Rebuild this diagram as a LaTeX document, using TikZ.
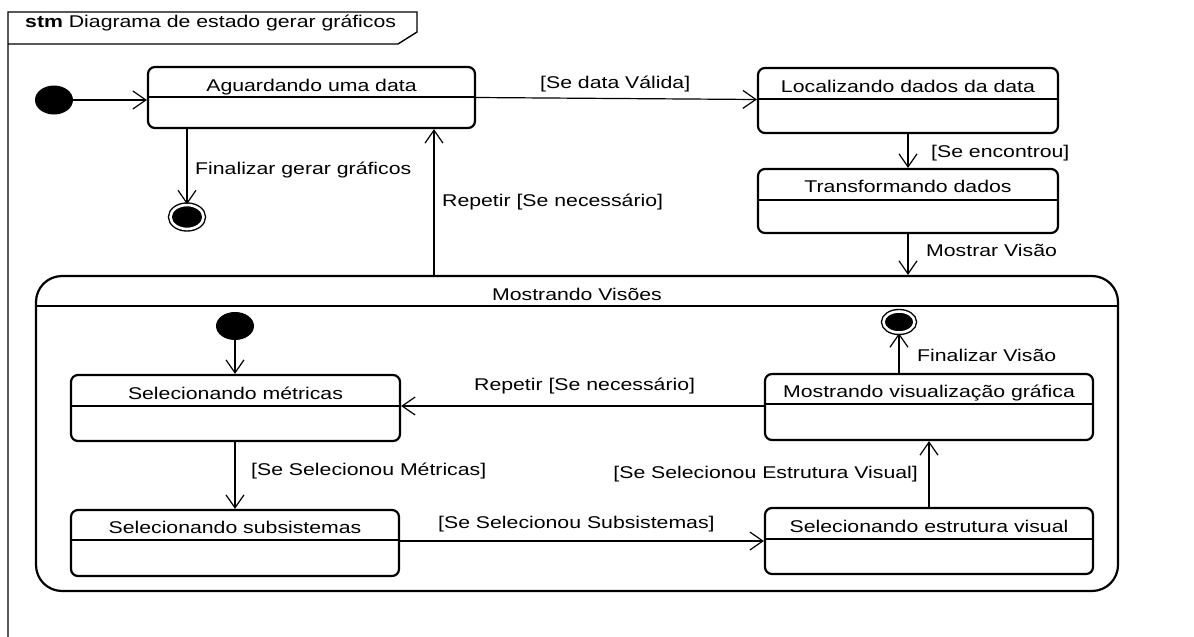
\documentclass[tikz,border=0pt]{standalone}
\usepackage{fontspec}
\newfontfamily\umlfont[FakeStretch=1.25]{Liberation Sans}
\usetikzlibrary{arrows.meta,shapes.geometric}
\begin{document}
\begin{tikzpicture}[x=1pt,y=-1pt,
  font=\umlfont\fontsize{17}{20}\selectfont,
  state/.style={draw, line width=2.2pt, rounded corners=7pt, rectangle, inner sep=0pt},
  comp/.style={draw, line width=2.2pt, rounded corners=26pt, rectangle, inner sep=0pt},
  div/.style={line width=1.2pt},
  tr/.style={line width=1.2pt, -{Straight Barb[length=13pt,width=18pt,line width=1.2pt]}},
  ttl/.style={anchor=base, inner sep=0pt},
  lbl/.style={anchor=base west, inner sep=0pt},
  initst/.style={ellipse, fill=black, inner sep=0pt, minimum width=38pt, minimum height=29pt},
  finst/.style={ellipse, fill=black, draw=black, line width=1.4pt, double=white, double distance=2.6pt, inner sep=0pt, minimum width=33pt, minimum height=24pt},
  frame/.style={line width=1.4pt}]
\useasboundingbox (0,0) rectangle (1194,637);
% frame
\draw[frame] (8,637) -- (8,12) -- (417,12) -- (417,32) -- (398,44) -- (8,44);
\node[anchor=base west, inner sep=0pt] (tab) at (25,27.5) {\textbf{stm} Diagrama de estado gerar gráficos};
% helper coordinates
\coordinate (x434) at (434,0);
\coordinate (y975) at (0,97.5);
\coordinate (y995) at (0,99.5);
% states
\node[initst] (init1) at (54,100) {};
\node[state, minimum width=327pt, minimum height=61pt] (agu) at (311.5,97.5) {};
\draw[div] (agu.west |- 0,97) -- (agu.east |- 0,97);
\node[ttl] (agu-t) at (311.5,91) {Aguardando uma data};
\node[finst] (fin1) at (187,217) {};
\node[state, minimum width=300pt, minimum height=65pt] (loc) at (908,100.5) {};
\draw[div] (loc.west |- 0,99) -- (loc.east |- 0,99);
\node[ttl] (loc-t) at (908,92.5) {Localizando dados da data};
\node[state, minimum width=300pt, minimum height=64pt] (tra) at (908,201) {};
\draw[div] (tra.west |- 0,200) -- (tra.east |- 0,200);
\node[ttl] (tra-t) at (908,192.5) {Transformando dados};
% composite state
\node[comp, minimum width=1082pt, minimum height=315pt] (mv) at (577,433.5) {};
\draw[div] (mv.west |- 0,306) -- (mv.east |- 0,306);
\node[ttl] (mv-t) at (577,300) {Mostrando Visões};
\node[initst, minimum height=28pt] (init2) at (235,326) {};
\node[finst, minimum width=31pt, minimum height=21pt] (fin2) at (899,322) {};
\node[state, minimum width=329pt, minimum height=66pt] (met) at (235.5,408) {};
\draw[div] (met.west |- 0,406) -- (met.east |- 0,406);
\node[ttl] (met-t) at (235.5,399) {Selecionando métricas};
\node[state, minimum width=328pt, minimum height=66pt] (sub) at (235,543) {};
\draw[div] (sub.west |- 0,540) -- (sub.east |- 0,540);
\node[ttl] (sub-t) at (235,533) {Selecionando subsistemas};
\node[state, minimum width=328pt, minimum height=66pt] (vis) at (929,407) {};
\draw[div] (vis.west |- 0,404) -- (vis.east |- 0,404);
\node[ttl] (vis-t) at (929,397.5) {Mostrando visualização gráfica};
\node[state, minimum width=328pt, minimum height=66pt] (est) at (929,541) {};
\draw[div] (est.west |- 0,539) -- (est.east |- 0,539);
\node[ttl] (est-t) at (929,532.5) {Selecionando estrutura visual};
% transitions
\draw[tr] (init1.east) -- (init1.east -| agu.west);
\draw[tr] (agu.east |- y975) -- (loc.west |- y995);
\draw[tr] (fin1.north |- agu.south) -- (fin1.north);
\draw[tr] (mv.north -| x434) -- (agu.south -| x434);
\draw[tr] (loc.south) -- (tra.north);
\draw[tr] (tra.south) -- (tra.south |- mv.north);
\draw[tr] (init2.south) -- (init2.south |- met.north);
\draw[tr] (fin2.south |- vis.north) -- (fin2.south);
\draw[tr] (vis.west |- 0,406) -- (met.east |- 0,406);
\draw[tr] (met.south -| sub.north) -- (sub.north);
\draw[tr] (sub.east |- 0,541) -- (est.west |- 0,541);
\draw[tr] (est.north) -- (vis.south);
% labels
\node[lbl] (l1) at (540,88) {[Se data Válida]};
\node[lbl] (l2) at (195,174) {Finalizar gerar gráficos};
\node[lbl] (l3) at (442,206) {Repetir [Se necessário]};
\node[lbl] (l4) at (931,157) {[Se encontrou]};
\node[lbl] (l5) at (926,256) {Mostrar Visão};
\node[lbl] (l6) at (917,361) {Finalizar Visão};
\node[lbl] (l7) at (474,390) {Repetir [Se necessário]};
\node[lbl] (l8) at (251,475) {[Se Selecionou Métricas]};
\node[lbl] (l9) at (438,528) {[Se Selecionou Subsistemas]};
\node[anchor=base east, inner sep=0pt] (l10) at (918,478) {[Se Selecionou Estrutura Visual]};
\end{tikzpicture}
\end{document}
